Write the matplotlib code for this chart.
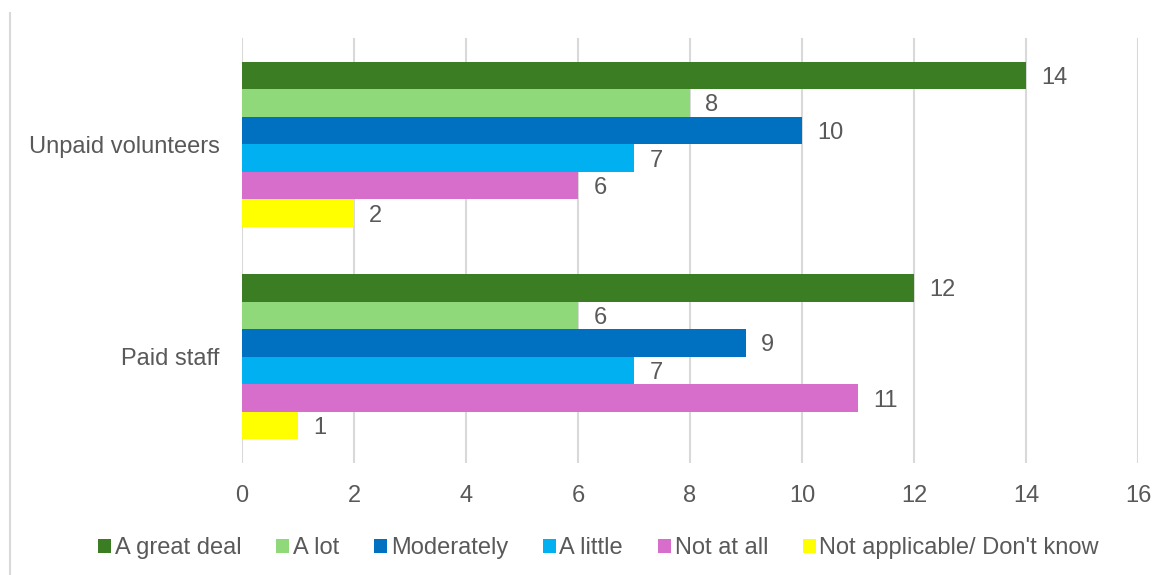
import numpy as np
import matplotlib.pyplot as plt
from matplotlib.lines import Line2D

plt.rcParams['font.family'] = ['Liberation Sans', 'DejaVu Sans']

# categories bottom -> top
groups = ['Paid staff', 'Unpaid volunteers']
series = ['A great deal', 'A lot', 'Moderately', 'A little', 'Not at all',
          "Not applicable/ Don't know"]
values = {
    'A great deal': [12, 14],
    'A lot': [6, 8],
    'Moderately': [9, 10],
    'A little': [7, 7],
    'Not at all': [11, 6],
    "Not applicable/ Don't know": [1, 2],
}
colors = ['#3a7d22', '#8fd97a', '#0070c0', '#00b0f0', '#d86ecc', '#ffff00']
xticks = [0, 2, 4, 6, 8, 10, 12, 14, 16]

txt = '#595959'
grid = '#d9d9d9'

fig = plt.figure(figsize=(11.67, 5.75), dpi=100)
ax = fig.add_axes([0.2074, 0.1948, 0.9751 - 0.2074, 0.9339 - 0.1948])

n = len(series)
h = 0.777 / n
y = np.arange(len(groups))
for i, (s, c) in enumerate(zip(series, colors)):
    pos = y + 0.777 / 2 - h * (i + 0.5)
    vals = values[s]
    ax.barh(pos, vals, height=h, color=c, label=s, zorder=3)
    for p, v in zip(pos, vals):
        ax.annotate(str(v), (v, p), xytext=(11, 0), textcoords='offset points',
                    va='center_baseline', ha='left', fontsize=17, color=txt)

ax.set_xlim(0, 16)
ax.set_ylim(-0.5, 1.5)
ax.set_xticks(xticks)
ax.set_yticks(y)
ax.set_yticklabels(groups)
ax.tick_params(axis='x', length=0, pad=16, labelsize=17, labelcolor=txt)
ax.tick_params(axis='y', length=0, pad=16, labelsize=17, labelcolor=txt)
ax.grid(axis='x', color=grid, linewidth=1.5, zorder=0)
for sp in ax.spines.values():
    sp.set_visible(False)

fig.legend(loc='center', bbox_to_anchor=(0.513, 0.047), ncol=6, frameon=False,
           fontsize=17, labelcolor=txt, handlelength=0.55, handleheight=0.55,
           handletextpad=0.15, columnspacing=1.48)

fig.add_artist(Line2D([0.0086, 0.0086], [0, 0.977], color=grid, linewidth=1.5,
                      transform=fig.transFigure))

fig.savefig('out.png', dpi=100, facecolor='white')
